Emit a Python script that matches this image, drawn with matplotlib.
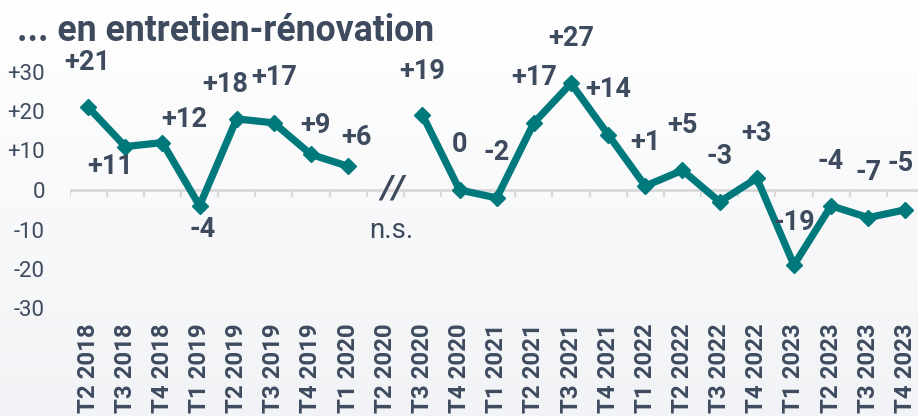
import numpy as np
import matplotlib
matplotlib.use("Agg")
import matplotlib.pyplot as plt
from matplotlib.colors import LinearSegmentedColormap

# quarters and balance of opinion (entretien-rénovation)
quarters = ["T2 2018", "T3 2018", "T4 2018", "T1 2019", "T2 2019", "T3 2019",
            "T4 2019", "T1 2020", "T2 2020", "T3 2020", "T4 2020", "T1 2021",
            "T2 2021", "T3 2021", "T4 2021", "T1 2022", "T2 2022", "T3 2022",
            "T4 2022", "T1 2023", "T2 2023", "T3 2023", "T4 2023"]
values = [21, 11, 12, -4, 18, 17, 9, 6, np.nan, 19, 0, -2,
          17, 27, 14, 1, 5, -3, 3, -19, -4, -7, -5]
y_ticks = [30, 20, 10, 0, -10, -20, -30]
missing_label = "n.s."
title = "... en entretien-rénovation"

# label offsets in pixels (dx, dy down) relative to each point
label_offsets = [(-1, -45), (-15, 20), (22, -23), (3, 24), (-11, -34), (0, -45),
                 (4, -29), (8, -29), None, (0, -43), (0, -45), (0, -45),
                 (0, -45), (0, -45), (0, -45), (0, -44), (0, -45), (0, -45),
                 (0, -45), (0, -43), (0, -44), (0, -45), (-5, -46)]

TEXT = "#3e4b5f"
TEAL = "#00797c"
GRID = "#d8d8d8"
W, H = 918, 416
PX = 72 / 100  # points per pixel

plt.rcParams["font.family"] = ["Roboto", "DejaVu Sans"]

fig = plt.figure(figsize=(W / 100, H / 100), dpi=100)

# light vertical gradient background
bg = fig.add_axes([0, 0, 1, 1], zorder=-10)
cmap = LinearSegmentedColormap.from_list("bg", ["#ffffff", "#f2f3f6"])
bg.imshow(np.linspace(0, 1, 256).reshape(-1, 1), aspect="auto", cmap=cmap,
          extent=[0, 1, 0, 1])
bg.axis("off")

left = 69.5 / W
width = 23 * 37.15 / W
bottom = (H - 308.5) / H
height = 237 / H
ax = fig.add_axes([left, bottom, width, height])
ax.patch.set_alpha(0)

x = np.arange(len(quarters))
ax.set_xlim(-0.5, len(quarters) - 0.5)
ax.set_ylim(-30, 30)

ax.axhline(0, color=GRID, lw=2, zorder=1)
ax.vlines(np.arange(len(quarters) + 1) - 0.5, 0, -1.8, color=GRID, lw=1.5, zorder=1)

ax.plot(x, values, color=TEAL, lw=5.2, marker="D", ms=8.5, zorder=3, clip_on=False)

for i, v in enumerate(values):
    off = label_offsets[i]
    if off is None or np.isnan(v):
        continue
    txt = "0" if v == 0 else f"{int(v):+d}"
    ax.annotate(txt, (i, v), xytext=(off[0] * PX, -off[1] * PX),
                textcoords="offset points", ha="center", va="center",
                fontsize=19.5, fontweight="bold", color=TEXT, zorder=4)

gap = quarters.index("T2 2020")
ax.annotate("//", (gap, 0), xytext=(7 * PX, 0), textcoords="offset points",
            ha="center", va="center", fontsize=24, fontweight="bold",
            fontstyle="italic", color=TEXT, zorder=4)
ax.annotate(missing_label, (gap, 0), xytext=(6 * PX, -41 * PX),
            textcoords="offset points", ha="center", va="center",
            fontsize=20, color=TEXT, zorder=4)

ax.set_yticks(y_ticks)
ax.set_yticklabels(["0" if t == 0 else f"{t:+d}" for t in y_ticks])
ax.set_xticks(x)
ax.set_xticklabels(quarters, rotation=90, fontweight="bold")
ax.tick_params(axis="y", length=0, pad=24.5 * PX, labelsize=16, labelcolor=TEXT)
ax.tick_params(axis="x", length=0, pad=14.5 * PX, labelsize=17.3, labelcolor=TEXT)
for s in ax.spines.values():
    s.set_visible(False)

fig.text(17 / W, 1 - 41 / H, title, fontsize=25.7, fontweight="bold",
         color=TEXT, va="baseline", ha="left")

fig.savefig("out.png", dpi=100)
